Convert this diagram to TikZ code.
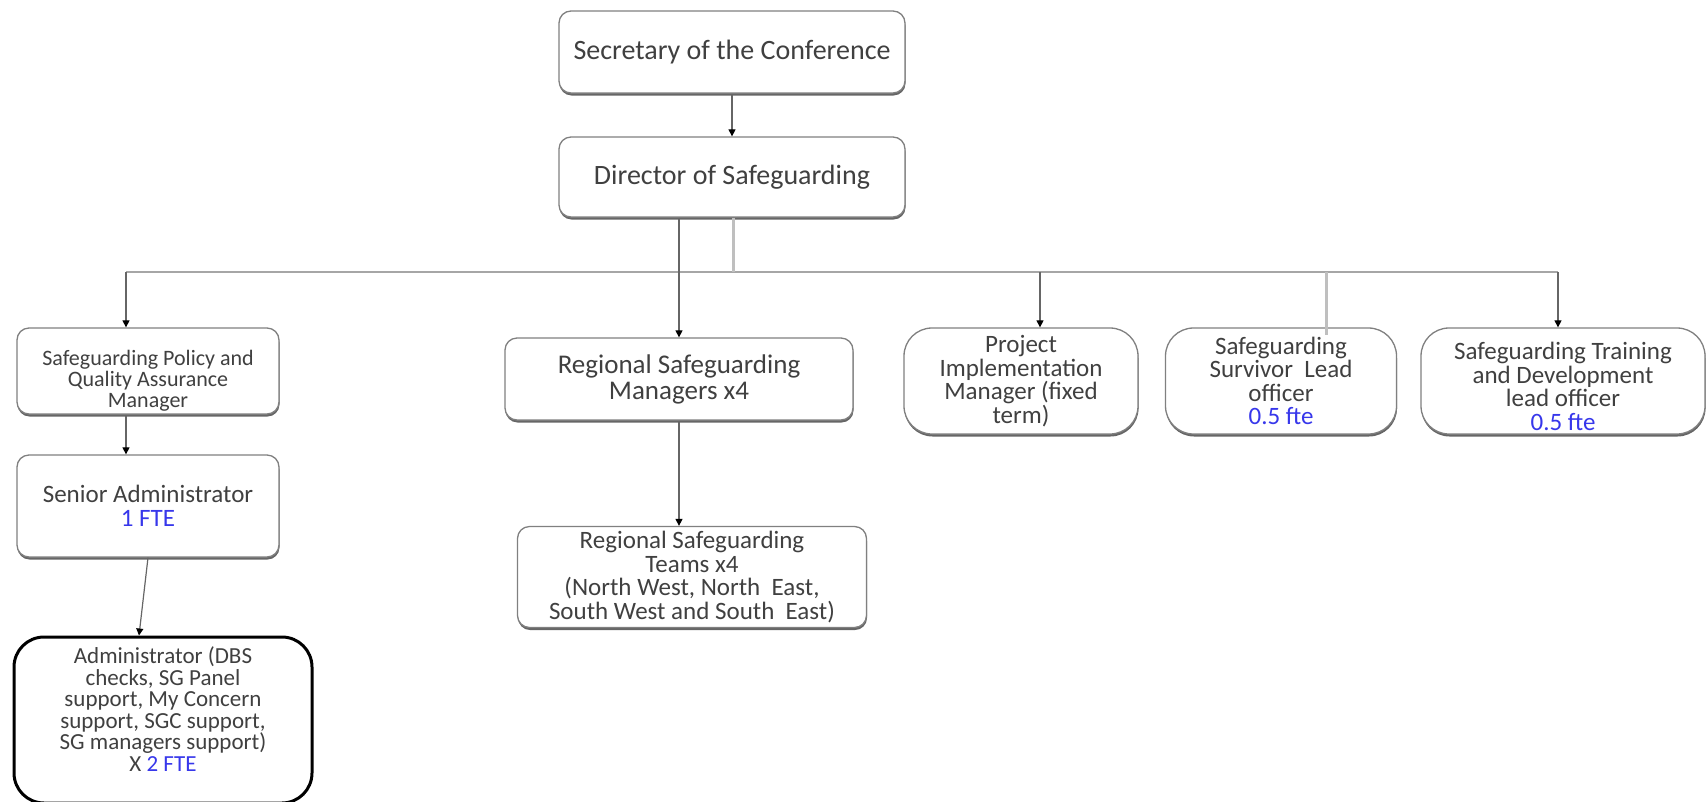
\documentclass[tikz,border=0pt]{standalone}
\usepackage{fontspec}
\setmainfont{Carlito}
\usetikzlibrary{arrows.meta,shadows}
\definecolor{boxtext}{RGB}{64,64,64}
\definecolor{ftetext}{RGB}{55,55,235}

\begin{document}
\begin{tikzpicture}[x=1pt,y=-1pt,
    box/.style={draw=black!50, line width=1.3pt, fill=white, rounded corners=12pt,
      align=center, text=boxtext, inner sep=2pt,
      drop shadow={shadow xshift=0.5pt, shadow yshift=-2.5pt, fill=black!60, opacity=1}},
    pill/.style={box, rounded corners=28pt},
    arr/.style={draw=black!60, line width=1.2pt, -{Triangle[length=7pt,width=7pt,color=black]}},
    bus/.style={draw=black!35, line width=2pt}]
  \useasboundingbox (0,0) rectangle (1708,801);
  % Top of the chart
  \node[box, minimum width=346pt, minimum height=82pt, font=\fontsize{28}{30}\selectfont]
    (sec) at (732,52) {Secretary of the Conference};
  \node[box, minimum width=346pt, minimum height=80pt, font=\fontsize{28}{30}\selectfont]
    (dir) at (732,177) {Director of Safeguarding};
  % Left column
  \node[box, minimum width=262pt, minimum height=86pt, font=\fontsize{22}{21}\selectfont]
    (policy) at (148,371) {\rule{0pt}{35pt}Safeguarding Policy and\\Quality Assurance\\Manager};
  \node[box, minimum width=262pt, minimum height=102pt, font=\fontsize{25}{24}\selectfont]
    (senior) at (148,506) {Senior Administrator\\\textcolor{ftetext}{1 FTE}};
  \node[draw=black, line width=3pt, fill=white, rounded corners=30pt, align=center,
    text=boxtext, minimum width=298pt, minimum height=166pt, font=\fontsize{23}{21.5}\selectfont]
    (admin) at (163,720) {Administrator (DBS\\checks, SG Panel\\support, My Concern\\support, SGC support,\\SG managers support)\\X \textcolor{ftetext}{2 FTE}\rule[-22pt]{0pt}{22pt}};
  % Regional column
  \node[box, minimum width=348pt, minimum height=82pt, font=\fontsize{27}{26}\selectfont]
    (managers) at (679,379) {Regional Safeguarding\\Managers x4};
  \node[box, minimum width=349pt, minimum height=101pt, font=\fontsize{25}{23.5}\selectfont]
    (teams) at (692,577) {Regional Safeguarding\\Teams x4\\(North West, North\ \ East,\\South West and South\ \ East)};
  % Right-hand posts
  \node[pill, minimum width=234pt, minimum height=106pt, font=\fontsize{25}{23.5}\selectfont]
    (project) at (1021,381) {Project\\Implementation\\Manager (fixed\\term)};
  \node[pill, minimum width=231pt, minimum height=106pt, font=\fontsize{25}{23.5}\selectfont]
    (survivor) at (1281,381) {Safeguarding\\Survivor\ \ Lead\\officer\\\textcolor{ftetext}{0.5 fte}};
  \node[pill, minimum width=284pt, minimum height=106pt, inner sep=0pt, font=\fontsize{25}{23.5}\selectfont]
    (training) at (1563,381) {\rule{0pt}{28pt}Safeguarding Training\\and Development\\lead officer\\\textcolor{ftetext}{0.5 fte}};
  % Drop points on the bus line
  \coordinate (busL) at (126,272);
  \coordinate (busM) at (733,272);
  \coordinate (dP) at (1040,272);
  \coordinate (dS) at (1326,272);
  \coordinate (dT) at (1558,272);
  \draw[bus] (busL) -- (dT);
  \draw[draw=black!25, line width=3pt] (dir.south -| busM) -- (busM);
  \draw[draw=black!25, line width=3pt] (dS) -- ([yshift=-8pt]dS |- survivor.north);
  % Arrows
  \draw[arr] (sec) -- (dir);
  \draw[arr] (dir.south -| managers.north) -- (managers.north);
  \draw[arr] (managers.south) -- (managers.south |- teams.north);
  \draw[arr] (busL) -- (busL |- policy.north);
  \draw[arr] (busL |- policy.south) -- (busL |- senior.north);
  \draw[arr] (senior.south) -- ([xshift=-24pt]admin.north);
  \draw[arr] (dP) -- (dP |- project.north);
  \draw[arr] (dT) -- (dT |- training.north);
\end{tikzpicture}
\end{document}
